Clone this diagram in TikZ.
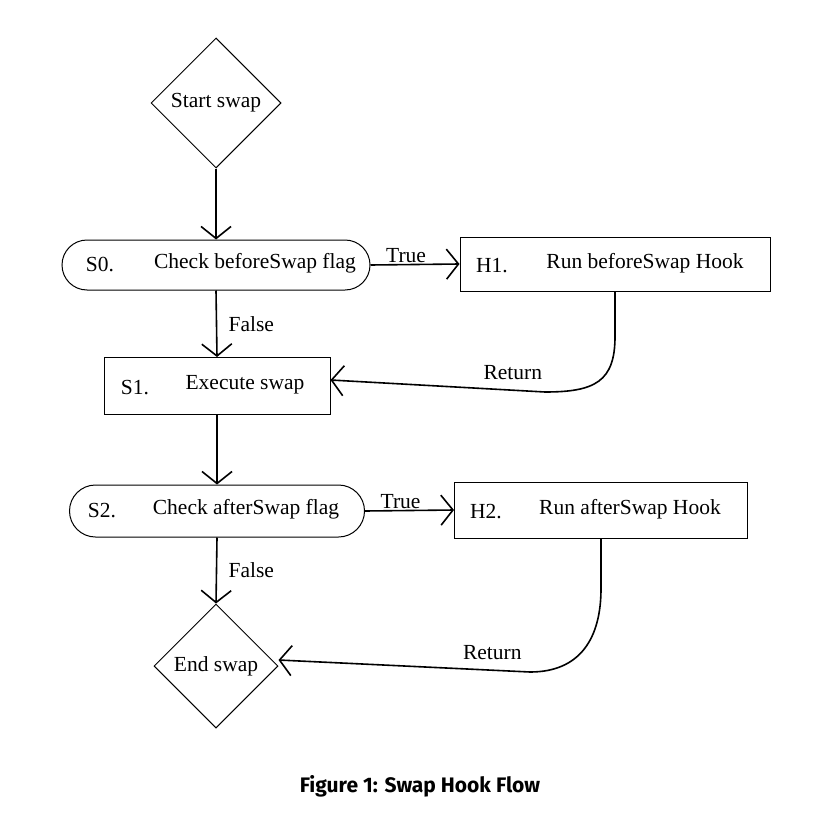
\documentclass[tikz,border=0pt]{standalone}
\usepackage{fontspec}
\setmainfont{Liberation Serif}
\newfontfamily\capfont{Fira Sans}
\usetikzlibrary{shapes.geometric,arrows.meta}
\begin{document}
\begin{tikzpicture}[x=1pt,y=-1pt,
  every node/.style={font=\fontsize{21.5}{24}\selectfont},
  box/.style={draw,line width=1pt,inner sep=0pt},
  dia/.style={draw,line width=1pt,diamond,minimum width=130pt,minimum height=130pt,inner sep=0pt,aspect=1},
  arr/.style={line width=1.6pt,-{Straight Barb[length=12pt,width=30pt,line width=1.6pt]}}]
\useasboundingbox (0,0) rectangle (840,832);
\node[dia] (st) at (216,103) {Start swap};
\node[box,rounded corners=25pt,minimum width=308pt,minimum height=50pt] (s0) at (216,265) {};
\node at (100,265) {S0.}; \node at (255,263) {Check beforeSwap flag};
\node[box,minimum width=310pt,minimum height=54pt] (h1) at (615,264) {};
\node at (492,266) {H1.}; \node at (645,263) {Run beforeSwap Hook};
\node[box,minimum width=226pt,minimum height=57pt] (s1) at (217,386) {};
\node at (135,388) {S1.}; \node at (245,385) {Execute swap};
\node[box,rounded corners=26pt,minimum width=295pt,minimum height=52pt] (s2) at (217,511) {};
\node at (102,511) {S2.}; \node at (246,509) {Check afterSwap flag};
\node[box,minimum width=293pt,minimum height=56pt] (h2) at (601,510) {};
\node at (486,512) {H2.}; \node at (630,509) {Run afterSwap Hook};
\node[dia,minimum width=124pt,minimum height=124pt] (en) at (216,666) {End swap};
\node[font=\capfont\bfseries\fontsize{21}{24}\selectfont] (cap) at (420,786) {Figure 1: Swap Hook Flow};
\draw[arr] (st.south) -- (s0.north);
\draw[arr] (s0.east) -- node[pos=0.4,above=-2pt] {True} (h1.west);
\draw[arr] (s0.south) -- node[right=8pt,pos=0.5] {False} (s1.north);
\draw[arr] (h1.south) -- ++(0,45) .. controls +(0,45) and +(50,0) .. (545,392) -- node[above=6pt,pos=0.15] {Return} ([yshift=6pt]s1.east);
\draw[arr] (s1.south) -- (s2.north);
\draw[arr] (s2.east) -- node[pos=0.4,above=-2pt] {True} (h2.west);
\draw[arr] (s2.south) -- node[right=8pt,pos=0.5] {False} (en.north);
\draw[arr] (h2.south) -- ++(0,50) .. controls +(0,50) and +(50,0) .. (530,672) -- node[above=6pt,pos=0.15] {Return} ([yshift=6pt]en.east);
\end{tikzpicture}
\end{document}
